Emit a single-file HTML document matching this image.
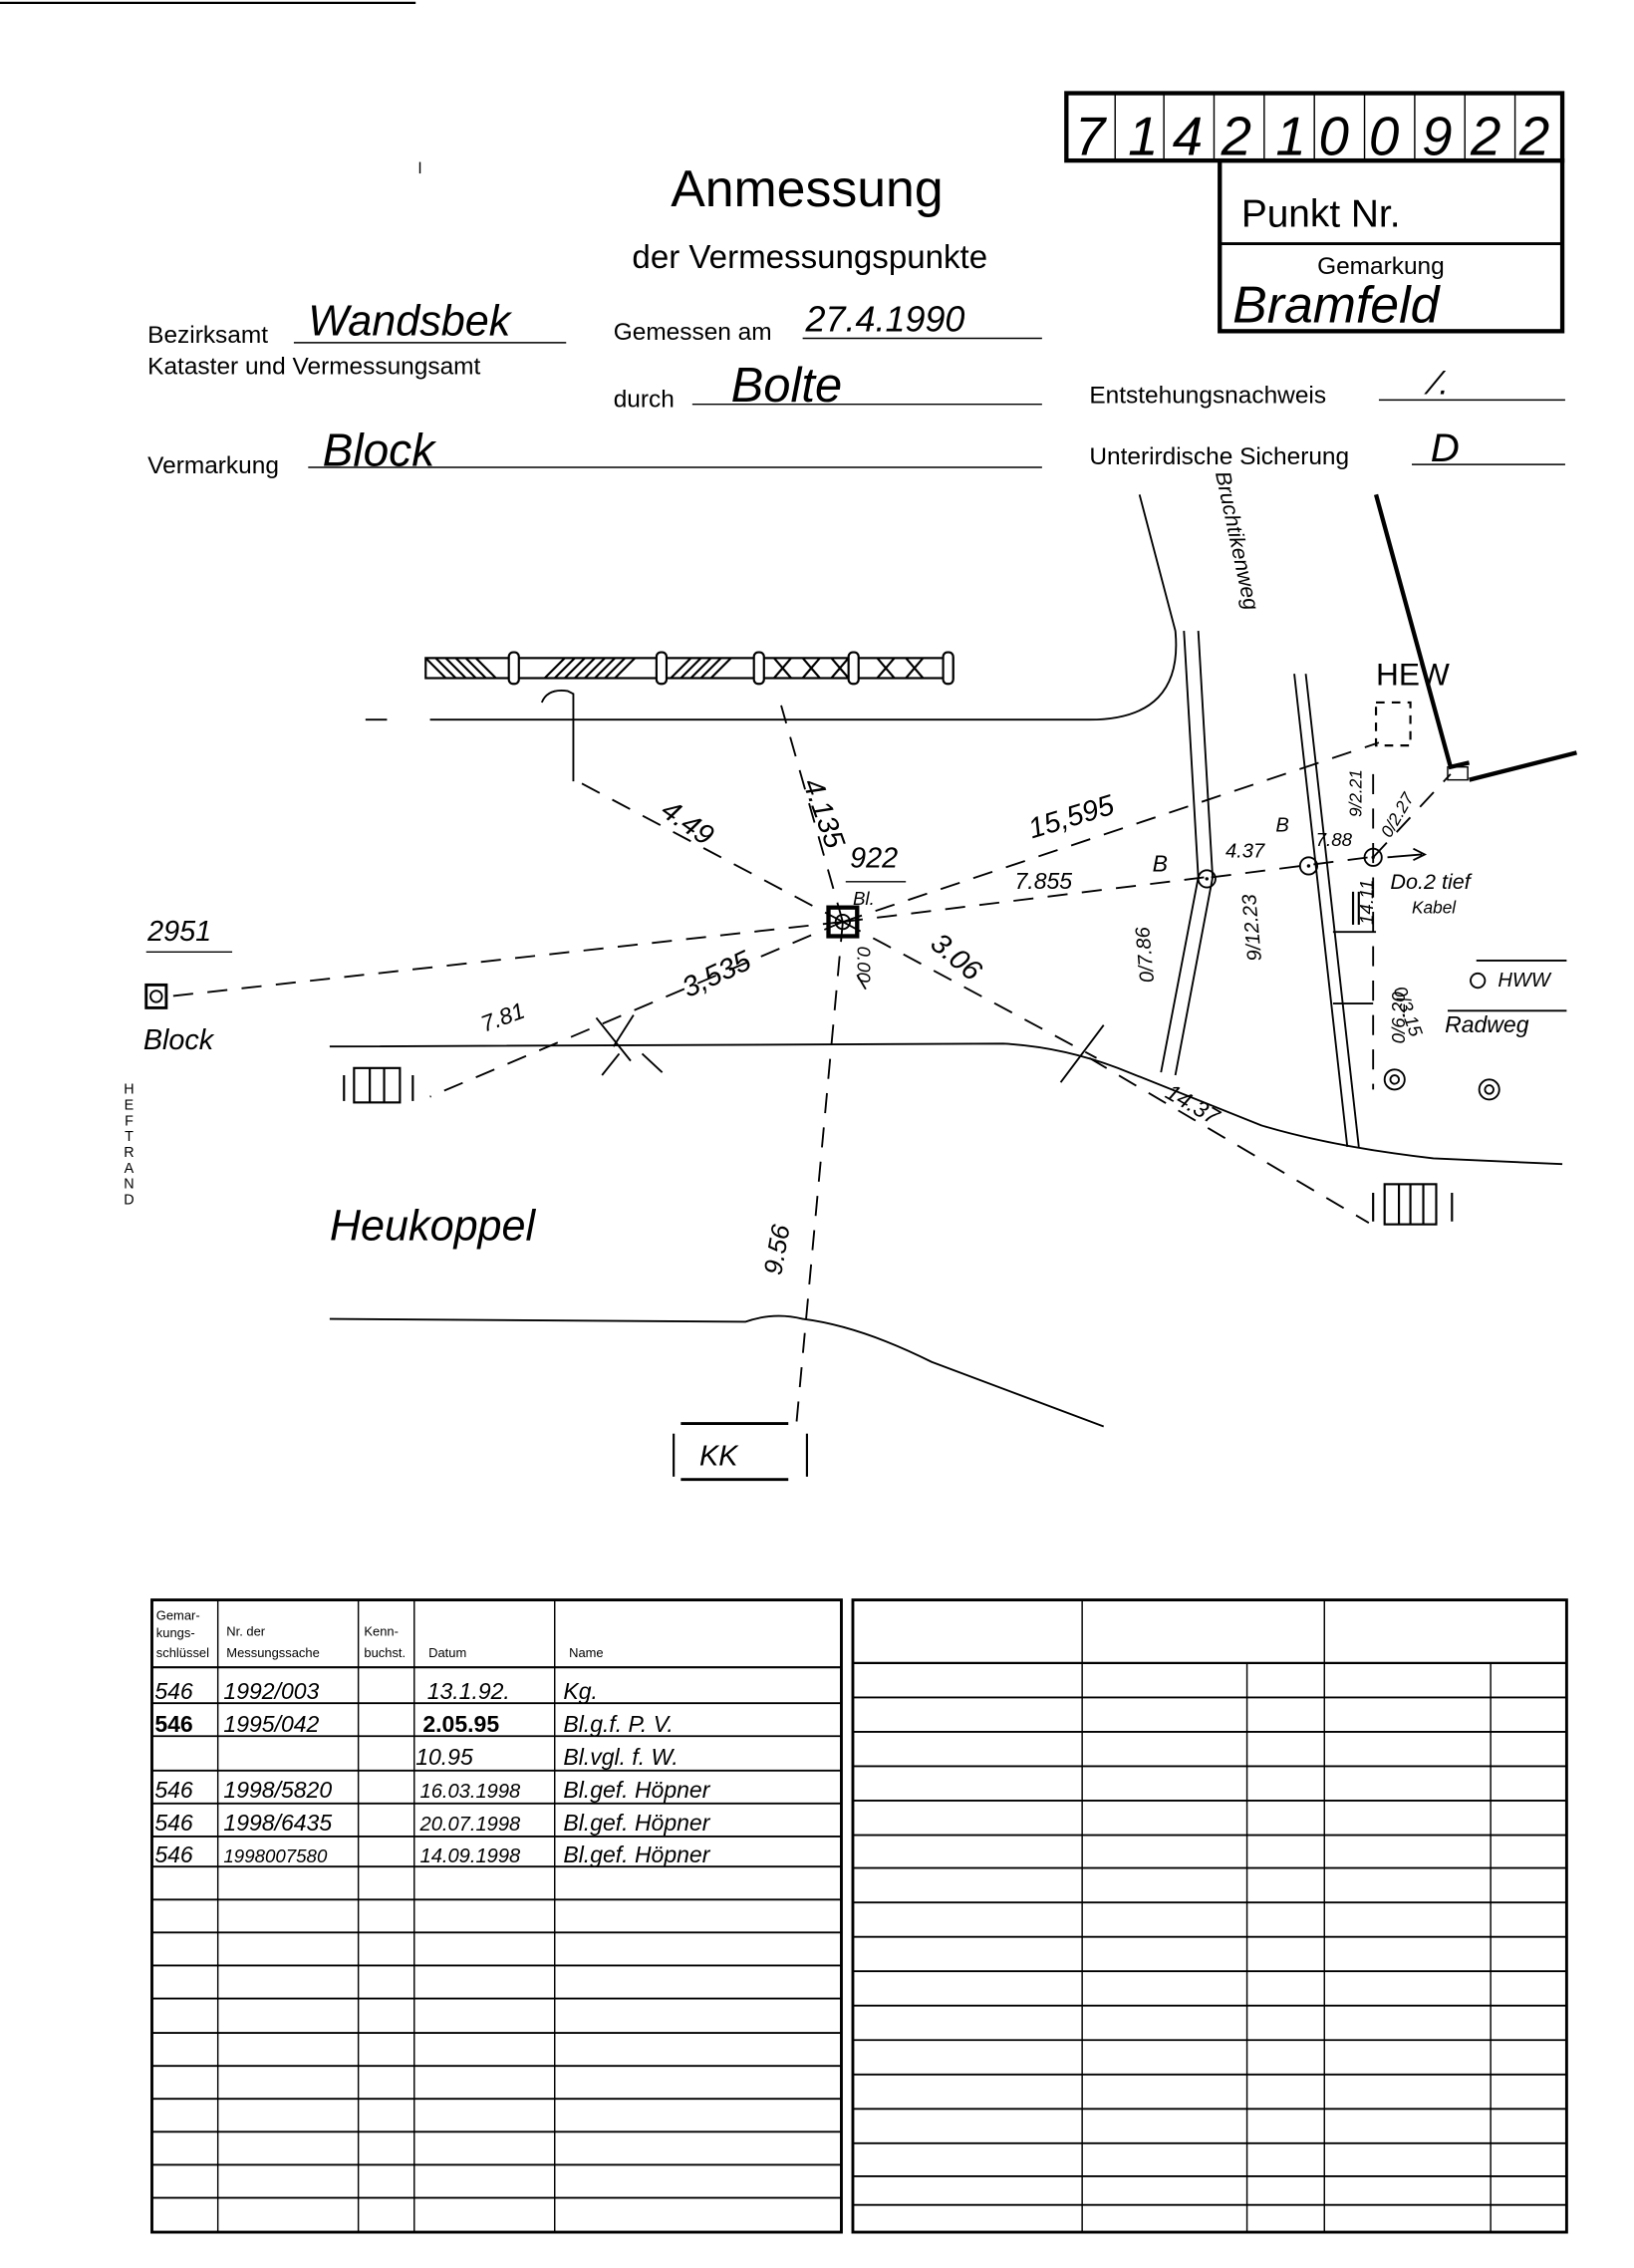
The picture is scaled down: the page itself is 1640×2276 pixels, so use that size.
<!DOCTYPE html>
<html><head><meta charset="utf-8"><style>
html,body{margin:0;padding:0;background:#fff;}
svg{display:block;}
text{font-family:"Liberation Sans",sans-serif;fill:#000;}
.h{font-family:"Liberation Sans",sans-serif;font-style:italic;}
</style></head><body>
<svg width="1640" height="2276" viewBox="0 0 1140 1582" preserveAspectRatio="none" xmlns="http://www.w3.org/2000/svg">
<rect width="1140" height="1582" fill="#fff"/>
<line x1="0" y1="2" x2="290" y2="2" stroke="#000" stroke-width="1.5"/>
<line x1="293" y1="113" x2="293" y2="121" stroke="#000"/>
<!-- Number box -->
<rect x="744" y="65" width="346" height="47" fill="none" stroke="#000" stroke-width="3"/>
<g stroke="#000" stroke-width="1">
<line x1="778" y1="65" x2="778" y2="112"/><line x1="812" y1="65" x2="812" y2="112"/><line x1="847" y1="65" x2="847" y2="112"/><line x1="882" y1="65" x2="882" y2="112"/><line x1="917" y1="65" x2="917" y2="112"/><line x1="952" y1="65" x2="952" y2="112"/><line x1="987" y1="65" x2="987" y2="112"/><line x1="1022" y1="65" x2="1022" y2="112"/><line x1="1057" y1="65" x2="1057" y2="112"/>
</g>
<g class="h" font-size="38">
<text x="750" y="108">7</text><text x="787" y="108">1</text><text x="818" y="108">4</text><text x="852" y="108">2</text><text x="890" y="108">1</text><text x="920" y="108">0</text><text x="955" y="108">0</text><text x="992" y="108">9</text><text x="1026" y="108">2</text><text x="1060" y="108">2</text>
</g>
<rect x="851" y="112" width="239" height="119" fill="none" stroke="#000" stroke-width="3"/>
<line x1="851" y1="170" x2="1090" y2="170" stroke="#000" stroke-width="2"/>
<text x="866" y="158" font-size="27">Punkt Nr.</text>
<text x="919" y="191" font-size="17">Gemarkung</text>
<text class="h" x="860" y="225" font-size="36">Bramfeld</text>
<text x="563" y="144" font-size="36" text-anchor="middle">Anmessung</text>
<text x="565" y="187" font-size="23" text-anchor="middle">der Vermessungspunkte</text>
<!-- form fields -->
<g font-size="17">
<text x="103" y="239">Bezirksamt</text>
<text x="103" y="261">Kataster und Vermessungsamt</text>
<text x="428" y="237">Gemessen am</text>
<text x="428" y="284">durch</text>
<text x="103" y="330">Vermarkung</text>
<text x="760" y="281">Entstehungsnachweis</text>
<text x="760" y="324">Unterirdische Sicherung</text>
</g>
<g stroke="#000" stroke-width="1">
<line x1="205" y1="239" x2="395" y2="239"/><line x1="560" y1="236" x2="727" y2="236"/>
<line x1="483" y1="282" x2="727" y2="282"/><line x1="215" y1="326" x2="727" y2="326"/>
<line x1="962" y1="279" x2="1092" y2="279"/><line x1="985" y1="324" x2="1092" y2="324"/>
</g>
<g class="h">
<text x="215" y="234" font-size="30">Wandsbek</text>
<text x="562" y="231" font-size="25">27.4.1990</text>
<text x="510" y="280" font-size="34">Bolte</text>
<text x="225" y="325" font-size="32">Block</text>
<text x="1000" y="275" font-size="24">⁄.</text>
<text x="998" y="322" font-size="28">D</text>
</g>
<!-- HEFTRAND -->
<g font-size="10" text-anchor="middle"><text x="90" y="763">H</text><text x="90" y="774">E</text><text x="90" y="785">F</text><text x="90" y="796">T</text><text x="90" y="807">R</text><text x="90" y="818">A</text><text x="90" y="829">N</text><text x="90" y="840">D</text></g>
<!-- roads -->
<g fill="none" stroke="#000" stroke-width="1.3">
<path d="M795 345 L820 440 Q826 502 760 502 L300 502"/>
<line x1="255" y1="502" x2="270" y2="502"/>
<path d="M826 440 L836 612 L810 748"/>
<path d="M836 440 L846 612 L820 750"/>
<path d="M903 470 L940 800"/>
<path d="M911 470 L948 800"/>
<path d="M230 730 L700 728 Q740 730 780 745 L880 785 Q930 800 1000 808 L1090 812"/>
<path d="M230 920 L520 922 Q540 915 560 920 Q600 925 650 950 L770 995"/>
<line x1="930" y1="650" x2="960" y2="650"/><line x1="930" y1="700" x2="958" y2="700"/>
<line x1="1010" y1="705" x2="1093" y2="705"/><line x1="1030" y1="670" x2="1093" y2="670"/>
</g>
<g stroke="#000" stroke-width="3" fill="none"><path d="M960 345 L1012 535 L1025 532 M1025 544 L1100 525"/></g>
<rect x="1010" y="535" width="14" height="9" fill="none" stroke="#000"/>
<!-- fence -->
<g stroke="#000" stroke-width="1.5" fill="none">
<rect x="297" y="459" width="368" height="14"/>
<path d="M297 459 l14 14 m-7 -14 l14 14 m-7 -14 l14 14 m-7 -14 l14 14 m-7 -14 l14 14 m-7 -14 l14 14 M380 473 l14 -14 m-7 14 l14 -14 m-7 14 l14 -14 m-7 14 l14 -14 m-7 14 l14 -14 m-7 14 l14 -14 m-7 14 l14 -14 m-7 14 l14 -14 M468 473 l14 -14 m-7 14 l14 -14 m-7 14 l14 -14 m-7 14 l14 -14 m-7 14 l14 -14 M540 459 l12 14 m0 -14 l-12 14 m20 -14 l12 14 m0 -14 l-12 14 m20 -14 l12 14 m0 -14 l-12 14 M612 459 l12 14 m0 -14 l-12 14 m20 -14 l12 14 m0 -14 l-12 14"/>
</g>
<g fill="#fff" stroke="#000" stroke-width="1.5">
<rect x="355" y="455" width="7" height="22" rx="3"/><rect x="458" y="455" width="7" height="22" rx="3"/><rect x="526" y="455" width="7" height="22" rx="3"/><rect x="592" y="455" width="7" height="22" rx="3"/><rect x="658" y="455" width="7" height="22" rx="3"/>
</g>
<path d="M378 490 Q382 480 396 482 L400 484 L400 545" fill="none" stroke="#000" stroke-width="1.3"/>
<!-- dashed measurement lines -->
<g stroke="#000" stroke-width="1.3" stroke-dasharray="14 10" fill="none">
<line x1="588" y1="643" x2="118" y2="695"/>
<line x1="588" y1="643" x2="403" y2="545"/>
<line x1="588" y1="643" x2="545" y2="492"/>
<line x1="588" y1="643" x2="962" y2="518"/>
<line x1="588" y1="643" x2="840" y2="612"/>
<line x1="845" y1="612" x2="955" y2="598"/>
<line x1="588" y1="643" x2="765" y2="738"/>
<line x1="588" y1="643" x2="300" y2="765"/>
<line x1="588" y1="643" x2="555" y2="1000"/>
<line x1="760" y1="738" x2="955" y2="853"/>
<line x1="958" y1="598" x2="1012" y2="540"/>
<line x1="958" y1="540" x2="958" y2="760"/>
</g>
<g stroke="#000" stroke-width="1.3"><line x1="416" y1="710" x2="440" y2="740"/><line x1="442" y1="708" x2="428" y2="730"/><line x1="420" y1="750" x2="432" y2="735"/><line x1="448" y1="735" x2="462" y2="748"/><line x1="740" y1="755" x2="770" y2="715"/><line x1="598" y1="680" x2="604" y2="690"/></g>
<!-- points -->
<rect x="578" y="633" width="20" height="20" fill="none" stroke="#000" stroke-width="3"/>
<circle cx="588" cy="643" r="5" fill="none" stroke="#000" stroke-width="1.3"/>
<rect x="102" y="687" width="14" height="16" fill="none" stroke="#000" stroke-width="2"/>
<circle cx="109" cy="695" r="4" fill="none" stroke="#000" stroke-width="1.3"/>
<g fill="none" stroke="#000" stroke-width="1.3">
<circle cx="842" cy="613" r="6"/><circle cx="913" cy="604" r="6"/><circle cx="958" cy="598" r="6"/><circle cx="1031" cy="684" r="5"/>
<circle cx="973" cy="753" r="7"/><circle cx="973" cy="753" r="3"/><circle cx="1039" cy="760" r="7"/><circle cx="1039" cy="760" r="3"/>
<path d="M968 598 L992 596 M986 592 L994 596 L986 600"/>
</g>
<g fill="#000"><circle cx="842" cy="613" r="1.2"/><circle cx="913" cy="604" r="1.2"/><circle cx="958" cy="598" r="1.2"/></g>
<!-- street furniture -->
<g fill="none" stroke="#000" stroke-width="1.5">
<rect x="247" y="745" width="32" height="24"/><line x1="258" y1="745" x2="258" y2="769"/><line x1="268" y1="745" x2="268" y2="769"/>
<line x1="240" y1="750" x2="240" y2="768"/><line x1="288" y1="750" x2="288" y2="768"/>
<rect x="966" y="826" width="36" height="28"/><line x1="976" y1="826" x2="976" y2="854"/><line x1="984" y1="826" x2="984" y2="854"/><line x1="993" y1="826" x2="993" y2="854"/>
<line x1="958" y1="832" x2="958" y2="852"/><line x1="1013" y1="832" x2="1013" y2="852"/>
<rect x="960" y="490" width="24" height="30" stroke-dasharray="6 5"/>
<line x1="475" y1="993" x2="550" y2="993" stroke-width="2"/><line x1="470" y1="1000" x2="470" y2="1030"/><line x1="563" y1="1000" x2="563" y2="1030"/><line x1="475" y1="1032" x2="550" y2="1032" stroke-width="2"/>
<line x1="944" y1="622" x2="944" y2="645"/><line x1="948" y1="622" x2="948" y2="645"/>
<line x1="1012" y1="1163" x2="1012" y2="1163"/>
</g>
<!-- labels -->
<g class="h" font-size="20">
<text x="593" y="605">922</text>
<line x1="590" y1="615" x2="632" y2="615" stroke="#000"/>
<text x="595" y="631" font-size="13">Bl.</text>
<text x="103" y="656">2951</text>
<line x1="102" y1="664" x2="162" y2="664" stroke="#000"/>
<text x="100" y="732">Block</text>
<text x="230" y="865" font-size="30">Heukoppel</text>
<text x="488" y="1022">KK</text>
<text x="960" y="478" font-style="normal" font-size="22">HEW</text>
<text x="720" y="585" transform="rotate(-17 720 585)">15,595</text>
<text x="708" y="620" font-size="16">7.855</text>
<text x="804" y="608" font-size="16">B</text>
<text x="855" y="598" font-size="14">4.37</text>
<text x="890" y="580" font-size="14">B</text>
<text x="918" y="590" font-size="13">7.88</text>
<text x="460" y="568" transform="rotate(35 460 568)">4.49</text>
<text x="560" y="546" transform="rotate(70 560 546)">4.135</text>
<text x="480" y="696" transform="rotate(-25 480 696)">3,535</text>
<text x="648" y="660" transform="rotate(40 648 660)">3.06</text>
<text x="338" y="720" transform="rotate(-20 338 720)" font-size="16">7.81</text>
<text x="812" y="765" transform="rotate(30 812 765)" font-size="16">14.37</text>
<text x="545" y="890" transform="rotate(-80 545 890)" font-size="18">9.56</text>
<text x="598" y="660" transform="rotate(90 598 660)" font-size="13">0.00</text>
<text x="805" y="685" transform="rotate(-95 805 685)" font-size="14">0/7.86</text>
<text x="880" y="670" transform="rotate(-95 880 670)" font-size="14">9/12.23</text>
<text x="950" y="570" transform="rotate(-90 950 570)" font-size="12">9/2.21</text>
<text x="970" y="585" transform="rotate(-60 970 585)" font-size="12">0/2.27</text>
<text x="958" y="645" transform="rotate(-90 958 645)" font-size="13">14.11</text>
<text x="972" y="690" transform="rotate(70 972 690)" font-size="13">0/3.15</text>
<text x="972" y="680" transform="rotate(-90 972 725)" font-size="13"> </text>
<text x="980" y="728" transform="rotate(-90 980 728)" font-size="13">0/6.20</text>
<text x="970" y="620" font-size="15">Do.2 tief</text>
<text x="985" y="637" font-size="12">Kabel</text>
<text x="1045" y="688" font-size="14">HWW</text>
<text x="1008" y="720" font-size="16">Radweg</text>
<text x="848" y="330" transform="rotate(78 848 330)" font-size="15">Bruchtikenweg</text>
</g>
<!-- left table -->
<g fill="none" stroke="#000">
<rect x="106" y="1116" width="481" height="441" stroke-width="2"/>
<line x1="152" y1="1116" x2="152" y2="1557"/><line x1="250" y1="1116" x2="250" y2="1557"/><line x1="289" y1="1116" x2="289" y2="1557"/><line x1="387" y1="1116" x2="387" y2="1557"/>
<line x1="106" y1="1163" x2="587" y2="1163" stroke-width="1.5"/>
</g>
<g stroke="#000" stroke-width="1.3">
<line x1="106" y1="1188" x2="587" y2="1188"/><line x1="106" y1="1211" x2="587" y2="1211"/><line x1="106" y1="1235" x2="587" y2="1235"/><line x1="106" y1="1258" x2="587" y2="1258"/><line x1="106" y1="1281" x2="587" y2="1281"/><line x1="106" y1="1302" x2="587" y2="1302"/><line x1="106" y1="1325" x2="587" y2="1325"/><line x1="106" y1="1348" x2="587" y2="1348"/><line x1="106" y1="1371" x2="587" y2="1371"/><line x1="106" y1="1394" x2="587" y2="1394"/><line x1="106" y1="1418" x2="587" y2="1418"/><line x1="106" y1="1441" x2="587" y2="1441"/><line x1="106" y1="1464" x2="587" y2="1464"/><line x1="106" y1="1487" x2="587" y2="1487"/><line x1="106" y1="1510" x2="587" y2="1510"/><line x1="106" y1="1533" x2="587" y2="1533"/>
</g>
<g font-size="9">
<text x="109" y="1130">Gemar-</text><text x="109" y="1142">kungs-</text><text x="109" y="1156">schlüssel</text>
<text x="158" y="1141">Nr. der</text><text x="158" y="1156">Messungssache</text>
<text x="254" y="1141">Kenn-</text><text x="254" y="1156">buchst.</text>
<text x="299" y="1156">Datum</text><text x="397" y="1156">Name</text>
</g>
<g class="h" font-size="16">
<text x="108" y="1185">546</text><text x="156" y="1185">1992/003</text><text x="298" y="1185">13.1.92.</text><text x="393" y="1185">Kg.</text>
<text x="108" y="1208" font-weight="bold" font-style="normal">546</text><text x="156" y="1208">1995/042</text><text x="295" y="1208" font-weight="bold" font-style="normal">2.05.95</text><text x="393" y="1208">Bl.g.f. P. V.</text>
<text x="290" y="1231">10.95</text><text x="393" y="1231">Bl.vgl. f. W.</text>
<text x="108" y="1254">546</text><text x="156" y="1254">1998/5820</text><text x="293" y="1254" font-size="14">16.03.1998</text><text x="393" y="1254">Bl.gef. Höpner</text>
<text x="108" y="1277">546</text><text x="156" y="1277">1998/6435</text><text x="293" y="1277" font-size="14">20.07.1998</text><text x="393" y="1277">Bl.gef. Höpner</text>
<text x="108" y="1299">546</text><text x="156" y="1299" font-size="13">1998007580</text><text x="293" y="1299" font-size="14">14.09.1998</text><text x="393" y="1299">Bl.gef. Höpner</text>
</g>
<!-- right table -->
<g fill="none" stroke="#000">
<rect x="595" y="1116" width="498" height="441" stroke-width="2"/>
<line x1="755" y1="1116" x2="755" y2="1557"/><line x1="924" y1="1116" x2="924" y2="1557"/>
<line x1="870" y1="1160" x2="870" y2="1557"/><line x1="1040" y1="1160" x2="1040" y2="1557"/>
<line x1="595" y1="1160" x2="1093" y2="1160" stroke-width="1.5"/>
</g>
<g stroke="#000" stroke-width="1.3">
<line x1="595" y1="1184" x2="1093" y2="1184"/><line x1="595" y1="1208" x2="1093" y2="1208"/><line x1="595" y1="1232" x2="1093" y2="1232"/><line x1="595" y1="1256" x2="1093" y2="1256"/><line x1="595" y1="1280" x2="1093" y2="1280"/><line x1="595" y1="1303" x2="1093" y2="1303"/><line x1="595" y1="1327" x2="1093" y2="1327"/><line x1="595" y1="1351" x2="1093" y2="1351"/><line x1="595" y1="1375" x2="1093" y2="1375"/><line x1="595" y1="1399" x2="1093" y2="1399"/><line x1="595" y1="1423" x2="1093" y2="1423"/><line x1="595" y1="1447" x2="1093" y2="1447"/><line x1="595" y1="1471" x2="1093" y2="1471"/><line x1="595" y1="1495" x2="1093" y2="1495"/><line x1="595" y1="1518" x2="1093" y2="1518"/><line x1="595" y1="1538" x2="1093" y2="1538"/>
</g>
</svg>
</body></html>
